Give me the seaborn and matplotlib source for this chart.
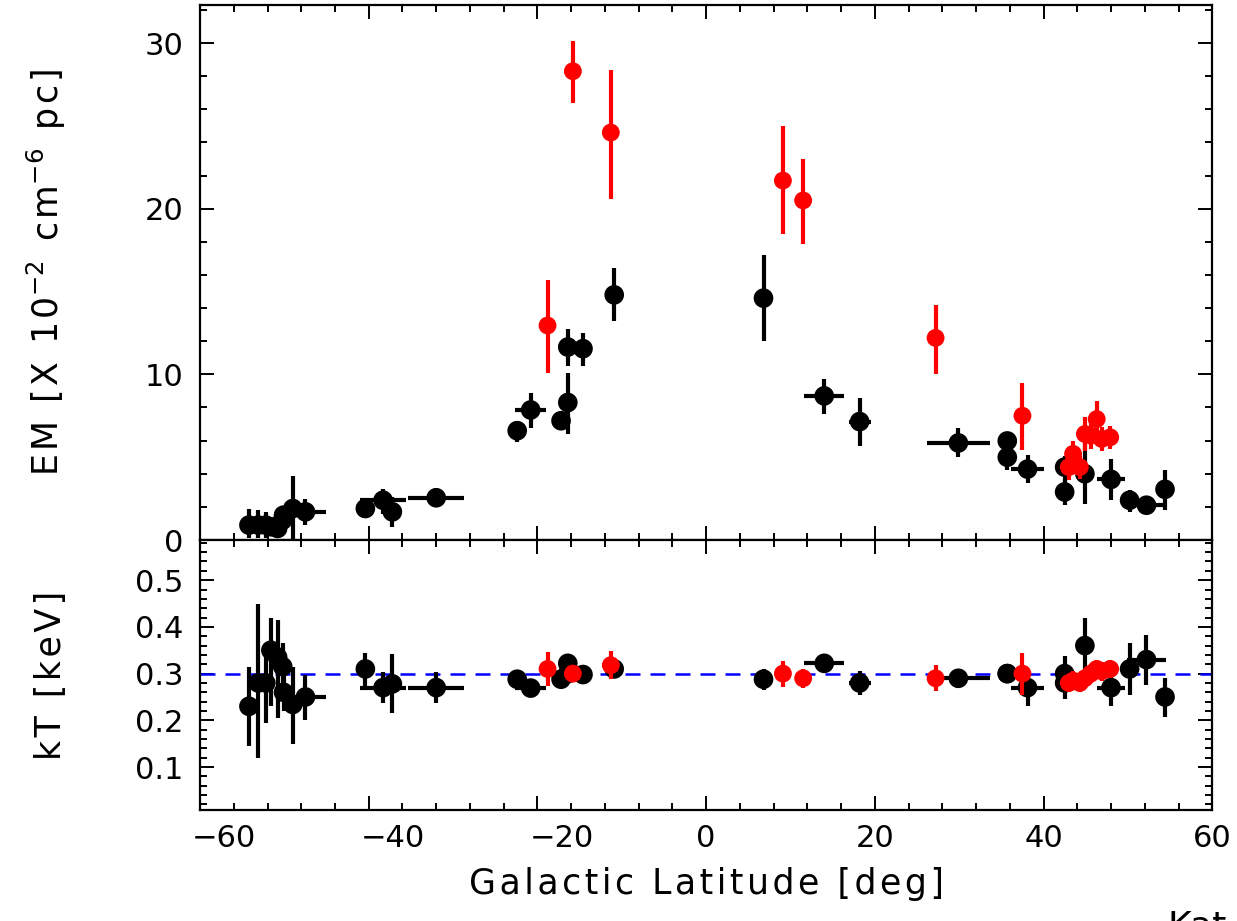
import numpy as np
import pandas as pd
import matplotlib
matplotlib.use("Agg")
import matplotlib.pyplot as plt
import matplotlib.transforms as mtransforms
import seaborn as sns
from matplotlib.ticker import MultipleLocator

# ---------------- data ----------------
# black sources
blk_lat   = [-54.2, -53.1, -52.2, -51.6, -50.8, -50.2, -50.1, -49.0, -47.5,
             -40.4, -38.3, -37.2, -32.0,
             -22.4, -20.8, -17.2, -16.4, -16.4, -14.6, -10.9,
             6.8, 14.0, 18.2, 29.9, 35.7, 35.7, 38.1, 42.5, 42.5, 44.9,
             48.0, 50.2, 52.2, 54.4]
blk_laterr = [0, 0, 0, 0, 0, 0, 0, 0, 2.4,
              0, 2.7, 0, 3.3,
              0, 1.85, 0, 0, 0, 0, 0,
              0, 2.4, 1.3, 3.75, 0, 0, 1.9, 0, 0, 0,
              1.7, 0, 2.3, 0]
blk_em    = [0.9, 0.9, 0.9, 0.8, 0.7, 1.2, 1.5, 1.9, 1.7,
             1.9, 2.4, 1.7, 2.55,
             6.6, 7.85, 7.2, 8.3, 11.65, 11.55, 14.8,
             14.6, 8.7, 7.15, 5.86, 5.98, 5.0, 4.28, 4.4, 2.9, 4.0,
             3.66, 2.4, 2.1, 3.06]
blk_em_lo = [0.8, 0.8, 0.8, 0.4, 0.4, 0.5, 0.5, 1.9, 0.8,
             0.3, 0.8, 0.9, 0.55,
             0.7, 1.1, 0.5, 1.9, 1.15, 1.05, 1.55,
             2.6, 1.1, 1.45, 0.86, 0.5, 0.8, 0.85, 1.0, 0.8, 1.8,
             1.25, 0.7, 0.3, 1.26]
blk_em_hi = [1.0, 0.9, 0.8, 0.5, 0.5, 0.5, 0.5, 1.95, 0.8,
             0.3, 0.7, 0.9, 0.6,
             0.6, 1.05, 0.5, 1.8, 1.1, 0.95, 1.6,
             2.6, 1.05, 1.4, 0.89, 0.5, 0.5, 0.85, 0.7, 0.7, 1.9,
             1.25, 0.6, 0.3, 1.14]
blk_kt    = [0.23, 0.28, 0.28, 0.35, 0.335, 0.315, 0.26, 0.234, 0.25,
             0.31, 0.27, 0.278, 0.27,
             0.288, 0.269, 0.288, 0.30, 0.322, 0.298, 0.31,
             0.288, 0.322, 0.28, 0.29, 0.30, 0.30, 0.27, 0.30, 0.28, 0.36,
             0.27, 0.31, 0.33, 0.25]
blk_kt_lo = [0.085, 0.16, 0.085, 0.12, 0.13, 0.05, 0.04, 0.085, 0.05,
             0.04, 0.033, 0.062, 0.033,
             0.015, 0.015, 0.015, 0.02, 0.02, 0.01, 0.015,
             0.023, 0.01, 0.025, 0.02, 0.02, 0.02, 0.04, 0.055, 0.02, 0.067,
             0.04, 0.055, 0.054, 0.042]
blk_kt_hi = [0.085, 0.17, 0.085, 0.07, 0.08, 0.05, 0.04, 0.08, 0.047,
             0.035, 0.033, 0.064, 0.033,
             0.015, 0.015, 0.015, 0.02, 0.02, 0.01, 0.015,
             0.022, 0.01, 0.025, 0.02, 0.02, 0.02, 0.03, 0.037, 0.02, 0.06,
             0.032, 0.056, 0.053, 0.04]

# red sources
red_lat   = [-18.8, -15.8, -11.3, 9.1, 11.5, 27.2, 37.5,
             43.0, 43.5, 44.3, 44.9, 45.6, 46.3, 46.9, 47.9]
red_em    = [12.95, 28.3, 24.6, 21.7, 20.5, 12.2, 7.5,
             4.4, 5.2, 4.4, 6.4, 6.3, 7.3, 6.1, 6.2]
red_em_lo = [2.85, 1.9, 4.0, 3.2, 2.6, 2.2, 2.05,
             0.8, 0.8, 0.7, 1.0, 0.8, 1.1, 0.7, 0.7]
red_em_hi = [2.75, 1.8, 3.8, 3.3, 2.5, 2.0, 1.95,
             0.8, 0.8, 0.7, 1.0, 0.8, 1.1, 0.7, 0.7]
red_kt    = [0.31, 0.30, 0.318, 0.30, 0.29, 0.29, 0.30,
             0.28, 0.285, 0.28, 0.29, 0.30, 0.31, 0.305, 0.31]
red_kt_err = [0.037, 0.015, 0.03, 0.028, 0.02, 0.028, 0.045,
              0.02, 0.02, 0.02, 0.02, 0.02, 0.02, 0.02, 0.02]

kt_ref = 0.3
x_ticks = [-60, -40, -20, 0, 20, 40, 60]
em_ticks = [0, 10, 20, 30]
kt_ticks = [0.1, 0.2, 0.3, 0.4, 0.5]

blk = pd.DataFrame(dict(lat=blk_lat, laterr=blk_laterr, em=blk_em,
                        em_lo=blk_em_lo, em_hi=blk_em_hi,
                        kt=blk_kt, kt_lo=blk_kt_lo, kt_hi=blk_kt_hi))
red = pd.DataFrame(dict(lat=red_lat, em=red_em, em_lo=red_em_lo,
                        em_hi=red_em_hi, kt=red_kt, kt_err=red_kt_err))

# ---------------- figure ----------------
sns.set_style("ticks")
plt.rcParams['font.family'] = ['DejaVu Sans']
plt.rcParams['mathtext.fontset'] = 'dejavusans'
for k in ('text.color', 'axes.labelcolor', 'xtick.color', 'ytick.color',
          'axes.edgecolor'):
    plt.rcParams[k] = 'black'

fig = plt.figure(figsize=(12.37, 9.21), dpi=100)
gs = fig.add_gridspec(2, 1, height_ratios=[535, 270], hspace=0,
                      left=0.1617, right=0.98, top=0.9946, bottom=0.1205)
ax1 = fig.add_subplot(gs[0])
ax2 = fig.add_subplot(gs[1], sharex=ax1)

elw = 3.0
ms_b = 200
ms_r = 165

# top panel: EM
ax1.errorbar(blk.lat, blk.em, yerr=[blk.em_lo, blk.em_hi], xerr=blk.laterr,
             fmt='none', ecolor='black', elinewidth=elw, capsize=0, zorder=2)
sns.scatterplot(data=blk, x='lat', y='em', color='black', s=ms_b,
                edgecolor='none', ax=ax1, zorder=3, legend=False)
ax1.errorbar(red.lat, red.em, yerr=[red.em_lo, red.em_hi],
             fmt='none', ecolor='red', elinewidth=elw, capsize=0, zorder=4)
sns.scatterplot(data=red, x='lat', y='em', color='red', s=ms_r,
                edgecolor='none', ax=ax1, zorder=5, legend=False)

# bottom panel: kT
ax2.axhline(kt_ref, color='blue', lw=1.8, ls=(0, (6, 4)), zorder=1)
ax2.errorbar(blk.lat, blk.kt, yerr=[blk.kt_lo, blk.kt_hi], xerr=blk.laterr,
             fmt='none', ecolor='black', elinewidth=elw, capsize=0, zorder=2)
sns.scatterplot(data=blk, x='lat', y='kt', color='black', s=ms_b,
                edgecolor='none', ax=ax2, zorder=3, legend=False)
ax2.errorbar(red.lat, red.kt, yerr=red.kt_err,
             fmt='none', ecolor='red', elinewidth=elw, capsize=0, zorder=4)
sns.scatterplot(data=red, x='lat', y='kt', color='red', s=ms_r,
                edgecolor='none', ax=ax2, zorder=5, legend=False)

# axes formatting
ax1.set_xlim(-60, 60)
ax1.set_ylim(0, 32.3)
ax2.set_ylim(0.008, 0.586)

ax1.xaxis.set_minor_locator(MultipleLocator(4))
ax1.yaxis.set_minor_locator(MultipleLocator(2))
ax2.yaxis.set_minor_locator(MultipleLocator(0.02))

for ax in (ax1, ax2):
    ax.tick_params(which='both', direction='in', top=True, right=True,
                   width=1.4, labelsize=22, color='black')
    ax.tick_params(which='major', length=10)
    ax.tick_params(which='minor', length=5)
    for sp in ax.spines.values():
        sp.set_linewidth(1.6)
        sp.set_color('black')
    ax.set_xlabel('')
    ax.set_ylabel('')

ax1.tick_params(labelbottom=False)
ax1.set_yticks(em_ticks)
ax1.set_yticklabels([str(v) for v in em_ticks])
ax2.set_yticks(kt_ticks)
ax2.set_yticklabels([f'{v:.1f}' for v in kt_ticks])
ax2.set_xticks(x_ticks)
ax2.set_xticklabels(['\u2212' + str(abs(v)) if v < 0 else str(v) for v in x_ticks])
ax2.tick_params(axis='x', pad=10)
ax1.tick_params(axis='y', pad=12)
ax2.tick_params(axis='y', pad=12)

# negative labels sit a little to the right in the reference
shift = mtransforms.ScaledTranslation(24 / 100, 0, fig.dpi_scale_trans)
for lab, v in zip(ax2.get_xticklabels(), x_ticks):
    if v < 0:
        lab.set_transform(lab.get_transform() + shift)

hs = '\u200a'
def spaced(s):
    return hs.join(list(s))

ax2.set_xlabel(spaced('Galactic Latitude [deg]'), fontsize=25, labelpad=10)
ax1.set_ylabel(spaced('EM [X 10') + r'$^{-2}$' + hs + spaced(' cm') + r'$^{-6}$'
               + hs + spaced(' pc]'), fontsize=25, labelpad=48)
ax2.set_ylabel(spaced('kT [keV]'), fontsize=25, labelpad=48)
fig.align_ylabels([ax1, ax2])

# partially visible text cut at the bottom-right corner of the original
fig.text(0.944, -0.017, 'Kat', fontsize=26, ha='left', va='baseline')

fig.savefig('out.png', dpi=100)
